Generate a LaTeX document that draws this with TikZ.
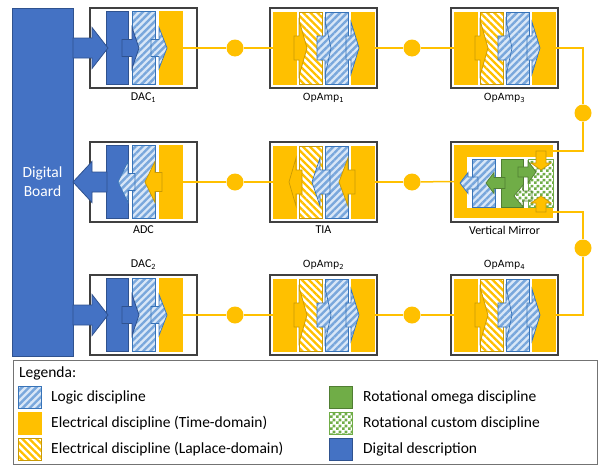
\documentclass[tikz,border=0pt]{standalone}
\usepackage{fontspec}
\setmainfont{Carlito}
\newfontfamily\opfont{DejaVu Sans}
\usetikzlibrary{patterns.meta}

\definecolor{digiF}{HTML}{4472C4}
\definecolor{digiD}{HTML}{2F528F}
\definecolor{elecY}{HTML}{FFC000}
\definecolor{elecD}{HTML}{C99A06}
\definecolor{logicL}{HTML}{D9E7F7}
\definecolor{logicM}{HTML}{79A7DC}
\definecolor{logicD}{HTML}{3773B8}
\definecolor{greenF}{HTML}{70AD47}
\definecolor{greenD}{HTML}{507E32}

% small green/white checkerboard
\pgfdeclarepattern{
  name=greenchecker, type=uncolored,
  bottom left={\pgfpointorigin}, top right={\pgfpoint{6pt}{6pt}},
  tile size={\pgfpoint{6pt}{6pt}},
  code={
    \pgfpathrectangle{\pgfpointorigin}{\pgfpoint{3pt}{3pt}}
    \pgfpathrectangle{\pgfpoint{3pt}{3pt}}{\pgfpoint{3pt}{3pt}}
    \pgfusepath{fill}
  }
}

\tikzset{
  boxframe/.style={rectangle, draw=black!75, line width=1.1pt, fill=white,
    minimum width=107pt, minimum height=80pt, inner sep=0pt},
  blk/.style={rectangle, inner sep=0pt, minimum width=23pt,
    minimum height=72pt, line width=0.8pt},
  laplfill/.style={preaction={fill=white},
    pattern={Lines[angle=-45,distance=5pt,line width=2.3pt]}, pattern color=elecY},
  logicfill/.style={preaction={fill=logicL},
    pattern={Lines[angle=45,distance=5pt,line width=2.4pt]}, pattern color=logicM},
  chkfill/.style={preaction={fill=white}, pattern=greenchecker, pattern color=greenF},
  elecblk/.style={blk, fill=elecY, draw=elecY},
  laplblk/.style={blk, laplfill, draw=elecD},
  logicblk/.style={blk, logicfill, draw=logicD},
  digiblk/.style={blk, fill=digiF, draw=digiD},
  elecarrow/.style={fill=elecY, draw=elecD, line width=0.7pt},
  logicarrow/.style={logicfill, draw=logicD, line width=0.7pt},
  digiarrow/.style={fill=digiF, draw=digiD, line width=0.8pt},
  greenarrow/.style={fill=greenF, draw=greenD, line width=0.7pt},
  chkarrow/.style={chkfill, draw=greenD, line width=0.7pt},
  conn/.style={draw=elecY, line width=1.5pt},
  joint/.style={circle, fill=elecY, minimum size=17pt, inner sep=0pt},
  lbl/.style={font=\fontsize{12}{14}\selectfont, inner sep=0pt},
  oplbl/.style={font=\opfont\fontsize{9.8}{11}\selectfont, inner sep=0pt},
  legtxt/.style={font=\fontsize{15.5}{18}\selectfont, anchor=west, inner sep=0pt},
  swatch/.style={rectangle, minimum width=23pt, minimum height=22pt,
    inner sep=0pt, line width=0.8pt},
}

% horizontal block arrow: [style]{shaft start}{head base}{tip}{y}{shaft half}{head half}
\newcommand{\harrow}[7][]{%
  \path[#1] (#2,{#5-#6}) -- (#3,{#5-#6}) -- (#3,{#5-#7}) -- (#4,#5)
    -- (#3,{#5+#7}) -- (#3,{#5+#6}) -- (#2,{#5+#6}) -- cycle;}
% vertical block arrow: [style]{shaft start}{head base}{tip}{x}{shaft half}{head half}
\newcommand{\varrow}[7][]{%
  \path[#1] ({#5-#6},#2) -- ({#5-#6},#3) -- ({#5-#7},#3) -- (#5,#4)
    -- ({#5+#7},#3) -- ({#5+#6},#3) -- ({#5+#6},#2) -- cycle;}

% amplifier stage, signal flowing to the right
\newcommand{\ampstage}[3]{%
  \begin{scope}[shift={(#2,#3)}]
    \node[boxframe] (#1) at (53.5,0) {};
    \node[elecblk]  (#1A) at (14.5,0) {};
    \node[laplblk]  (#1B) at (40.5,0) {};
    \node[logicblk] (#1C) at (66.5,0) {};
    \node[elecblk]  (#1D) at (92.5,0) {};
    \harrow[elecarrow]{24}{29}{37}{0}{12}{28}
    \harrow[logicarrow]{47}{55}{61}{0}{12}{28}
    \harrow[logicarrow]{76}{81}{89}{0}{12}{26}
  \end{scope}}

% converter from the digital board
\newcommand{\dacstage}[3]{%
  \begin{scope}[shift={(#2,#3)}]
    \node[boxframe] (#1) at (53.5,0) {};
    \node[digiblk, minimum width=22pt, minimum height=73pt]  (#1K) at (27,0) {};
    \node[logicblk, minimum height=73pt] (#1L) at (53.5,0) {};
    \node[elecblk, minimum height=73pt]  (#1Y) at (80.5,0) {};
    \harrow[digiarrow]{-17}{2}{18}{0}{10}{20.5}
    \harrow[digiarrow]{32}{42}{49}{0}{8.5}{20.5}
    \harrow[logicarrow]{61}{69}{77}{0}{8.5}{20.5}
  \end{scope}}

\begin{document}
\begin{tikzpicture}[x=1pt, y=-1pt]
  \useasboundingbox (0,0) rectangle (608,466);

  % digital board
  \node[rectangle, fill=digiF, draw=digiD, line width=0.8pt, inner sep=0pt,
        minimum width=61pt, minimum height=348pt] (board) at (42.5,182) {};
  \node[font=\fontsize{15.5}{19}\selectfont, text=white, align=center, inner sep=0pt]
        (boardtxt) at (42.5,182) {Digital\\Board};

  % first row
  \dacstage{dac1}{90}{48}
  \ampstage{op1}{270}{48}
  \ampstage{op3}{451}{48}

  % third row
  \dacstage{dac2}{90}{315}
  \ampstage{op2}{270}{315}
  \ampstage{op4}{451}{315}

  % ADC, signal flowing to the board
  \begin{scope}[shift={(90,182)}]
    \node[boxframe] (adc) at (53.5,0) {};
    \node[digiblk, minimum width=22pt, minimum height=73pt] (adcK) at (27,0) {};
    \node[logicblk, minimum height=73pt] (adcL) at (53.5,0) {};
    \node[elecblk, minimum height=73pt]  (adcY) at (80.5,0) {};
    \harrow[elecarrow]{72}{65}{55}{0}{9.5}{20.5}
    \harrow[logicarrow]{45}{38}{28}{0}{8.5}{20.5}
    \harrow[digiarrow]{17}{2}{-17}{0}{10}{20.5}
  \end{scope}

  % TIA, signal flowing to the left
  \begin{scope}[shift={(270,182)}]
    \node[boxframe] (tia) at (53.5,0) {};
    \node[elecblk]  (tiaA) at (14.5,0) {};
    \node[laplblk]  (tiaB) at (40.5,0) {};
    \node[logicblk] (tiaC) at (66.5,0) {};
    \node[elecblk]  (tiaD) at (92.5,0) {};
    \harrow[elecarrow]{85}{78}{69}{0}{12}{24}
    \harrow[logicarrow]{60}{50}{42}{0}{12}{24}
    \harrow[elecarrow]{32}{26}{19}{0}{12}{24}
  \end{scope}

  % vertical mirror
  \begin{scope}[shift={(451,182)}]
    \node[boxframe] (vm) at (53.5,0) {};
    \node[rectangle, fill=elecY, inner sep=0pt, minimum width=99pt,
          minimum height=73pt] (vmF) at (52.5,-0.5) {};
    \fill[white] (16,-25) rectangle (102,26);
    \node[logicblk, minimum height=48pt] (vmL) at (32.5,1) {};
    \node[blk, fill=greenF, draw=greenD, minimum width=22pt,
          minimum height=48pt] (vmG) at (61,1) {};
    \node[blk, chkfill, draw=greenF, minimum width=25pt,
          minimum height=48pt] (vmC) at (89.5,1) {};
    \varrow[elecarrow]{-31}{-19}{-12}{90}{5}{10}
    \varrow[elecarrow]{30}{21}{14}{90}{5}{10}
    \harrow[greenarrow]{67}{77}{85}{-10}{5}{11}
    \harrow[chkarrow]{81}{72}{63}{14}{5}{11}
    \harrow[greenarrow]{54}{43}{35}{1}{5.5}{10.5}
    \harrow[logicarrow]{27}{17}{9}{1}{6}{10.5}
    \coordinate (vmT) at (102,-31);
    \coordinate (vmB) at (102,30);
  \end{scope}

  % joints on the signal lines
  \node[joint] (c1) at (235,48) {};
  \node[joint] (c2) at (412,48) {};
  \node[joint] (c5) at (583,113) {};
  \node[joint] (c3) at (235,182) {};
  \node[joint] (c4) at (412,182) {};
  \node[joint] (c6) at (583,248) {};
  \node[joint] (c7) at (235,315) {};
  \node[joint] (c8) at (412,315) {};

  % signal lines
  \draw[conn] (dac1Y.east) -- (c1);
  \draw[conn] (c1) -- (op1A.west);
  \draw[conn] (op1D.east) -- (c2);
  \draw[conn] (c2) -- (op3A.west);
  \draw[conn] (op3D.east) -| (c5);
  \draw[conn] (c5) |- (vmT);
  \draw[conn] (vmB) -| (c6);
  \draw[conn] (c6) |- (op4D.east);
  \draw[conn] (vmF.west) -- (c4);
  \draw[conn] (c4) -- (tiaD.east);
  \draw[conn] (tiaA.west) -- (c3);
  \draw[conn] (c3) -- (adcY.east);
  \draw[conn] (dac2Y.east) -- (c7);
  \draw[conn] (c7) -- (op2A.west);
  \draw[conn] (op2D.east) -- (c8);
  \draw[conn] (c8) -- (op4A.west);

  % stage names
  \node[lbl]   (dac1lbl) at (143.5,98) {DAC\textsubscript{1}};
  \node[oplbl] (op1lbl)  at (323.5,98) {OpAmp\textsubscript{1}};
  \node[oplbl] (op3lbl)  at (504.5,98) {OpAmp\textsubscript{3}};
  \node[lbl]   (adclbl)  at (143.5,230) {ADC};
  \node[lbl]   (tialbl)  at (323.5,230) {TIA};
  \node[lbl]   (vmlbl)   at (504.5,230) {Vertical Mirror};
  \node[lbl]   (dac2lbl) at (143.5,265) {DAC\textsubscript{2}};
  \node[oplbl] (op2lbl)  at (323.5,265) {OpAmp\textsubscript{2}};
  \node[oplbl] (op4lbl)  at (504.5,265) {OpAmp\textsubscript{4}};

  % legend
  \node[rectangle, draw=black!55, line width=1pt, inner sep=0pt,
        minimum width=584pt, minimum height=104pt] (legend) at (305,412.5) {};
  \node[legtxt] (legtitle) at (19,373) {Legenda:};
  \node[swatch, logicfill, draw=logicD] (swLogic) at (29.5,397.5) {};
  \node[legtxt] (txLogic) at (51,397.5) {Logic discipline};
  \node[swatch, fill=elecY, draw=elecY] (swTime) at (29.5,423.5) {};
  \node[legtxt] (txTime) at (51,423.5) {Electrical discipline (Time-domain)};
  \node[swatch, laplfill, draw=elecD] (swLapl) at (29.5,449) {};
  \node[legtxt] (txLapl) at (51,449) {Electrical discipline (Laplace-domain)};
  \node[swatch, fill=greenF, draw=greenD] (swOmega) at (340.5,397.5) {};
  \node[legtxt] (txOmega) at (363,397.5) {Rotational omega discipline};
  \node[swatch, chkfill, draw=greenF] (swCustom) at (340.5,423.5) {};
  \node[legtxt] (txCustom) at (363,423.5) {Rotational custom discipline};
  \node[swatch, fill=digiF, draw=digiD] (swDigi) at (340.5,449) {};
  \node[legtxt] (txDigi) at (363,449) {Digital description};
\end{tikzpicture}
\end{document}
